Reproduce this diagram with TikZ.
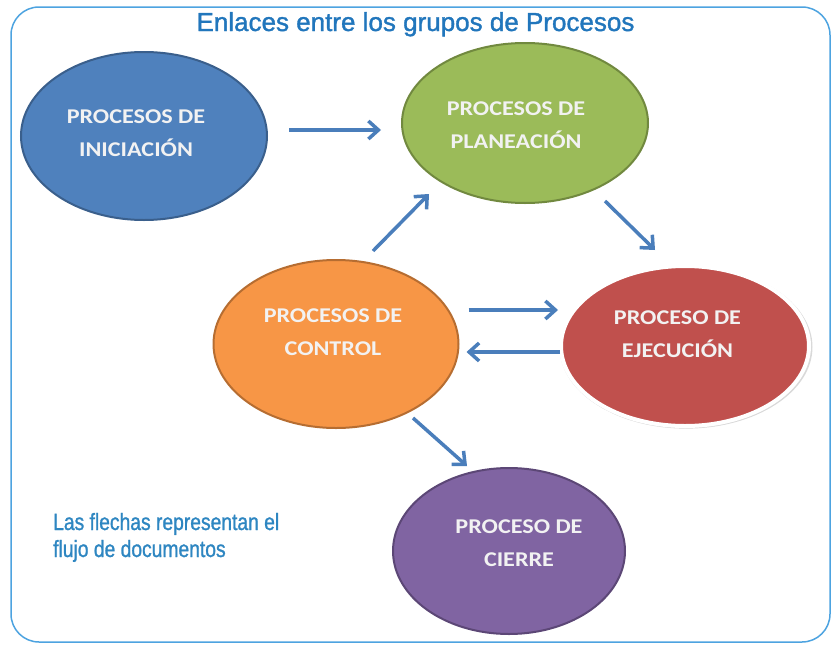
\documentclass[tikz,border=0pt]{standalone}
\usepackage{fontspec}
\setmainfont{Liberation Sans}
\newfontfamily\titlefont[FakeBold=1.3]{Liberation Sans}
\newfontfamily\notefont[FakeStretch=0.82,FakeBold=1.1]{Liberation Sans}
\newfontfamily\boxfont[FakeStretch=1.15]{Carlito}
\usetikzlibrary{shapes.geometric,arrows.meta,shadows}
\definecolor{frameblue}{HTML}{4DA3E0}
\definecolor{titleblue}{HTML}{2176BC}
\definecolor{noteblue}{HTML}{2E86C1}
\definecolor{arrowblue}{HTML}{4A7EBB}
\definecolor{iniFill}{HTML}{4F81BD}
\definecolor{iniLine}{HTML}{3A5F8C}
\definecolor{plaFill}{HTML}{9BBB59}
\definecolor{plaLine}{HTML}{71893F}
\definecolor{ctlFill}{HTML}{F79646}
\definecolor{ctlLine}{HTML}{B66D31}
\definecolor{ejeFill}{HTML}{C0504D}
\definecolor{ciFill}{HTML}{8064A2}
\definecolor{ciLine}{HTML}{5C4776}
\definecolor{boxtext}{HTML}{F2F2F2}
\tikzset{
  blob/.style={ellipse, inner sep=0pt, line width=2pt},
  blobtext/.style={align=center, text=boxtext, font=\boxfont\bfseries\fontsize{21}{33}\selectfont},
  flow/.style={draw=arrowblue, line width=3.5pt, -{Straight Barb[length=10pt,width=18pt]}},
}
\begin{document}
\begin{tikzpicture}[x=1pt,y=-1pt]
\useasboundingbox (0,0) rectangle (833,645);
% frame
\draw[frameblue, line width=1.5pt, rounded corners=28pt] (11,7) rectangle (830,642);
% title
\node[anchor=base, text=titleblue, font=\titlefont\fontsize{26}{30}\selectfont] (title) at (415.5,31) {Enlaces entre los grupos de Procesos};
% ellipses
\node[blob, fill=iniFill, draw=iniLine, minimum width=246pt, minimum height=168pt] (ini) at (144,136) {};
\node[blob, fill=plaFill, draw=plaLine, minimum width=246pt, minimum height=160pt] (pla) at (525,123) {};
\node[blob, fill=ctlFill, draw=ctlLine, minimum width=245pt, minimum height=168pt] (ctl) at (336,344) {};
\node[blob, fill=ejeFill, draw=white, line width=4pt, minimum width=248pt, minimum height=160pt,
      drop shadow={opacity=0.3, shadow xshift=1pt, shadow yshift=-1pt, shadow scale=1.02}] (eje) at (685,346) {};
\node[blob, fill=ciFill, draw=ciLine, minimum width=232pt, minimum height=166pt] (cie) at (509,551) {};
% texts
\node[blobtext] (iniT) at (136,133) {PROCESOS DE\\INICIACIÓN};
\node[blobtext] (plaT) at (516,125) {PROCESOS DE\\PLANEACIÓN};
\node[blobtext] (ctlT) at (333,332.5) {PROCESOS DE\\CONTROL};
\node[blobtext] (ejeT) at (677.5,334.5) {PROCESO DE\\EJECUCIÓN};
\node[blobtext] (cieT) at (519,543.5) {PROCESO DE\\CIERRE};
% arrow ends
\coordinate (a1s) at ([shift={(21,-6)}]ini.east);
\coordinate (a1e) at ([shift={(-20,7)}]pla.west);
\coordinate (a2s) at ([shift={(37,-8)}]ctl.north);
\coordinate (a2e) at ([shift={(-96,-10)}]pla.south);
\coordinate (a3s) at ([shift={(80,-3)}]pla.south);
\coordinate (a3e) at ([shift={(-30,-14)}]eje.north);
\coordinate (a4s) at ([shift={(9,-34)}]ctl.east);
\coordinate (a4e) at ([shift={(-1,-36)}]eje.west);
\coordinate (a5s) at ([shift={(1,6)}]eje.west);
\coordinate (a5e) at ([shift={(7,8)}]ctl.east);
\coordinate (a6s) at ([shift={(77,-11)}]ctl.south);
\coordinate (a6e) at ([shift={(-42,-1)}]cie.north);
\draw[flow] (a1s) -- (a1e);
\draw[flow] (a2s) -- (a2e);
\draw[flow] (a3s) -- (a3e);
\draw[flow] (a4s) -- (a4e);
\draw[flow] (a5s) -- (a5e);
\draw[flow] (a6s) -- (a6e);
% note
\node[anchor=base west, align=left, text=noteblue, font=\notefont\fontsize{23.5}{27}\selectfont, inner sep=0pt] (note) at (53,557) {Las flechas representan el\\flujo de documentos};
\end{tikzpicture}
\end{document}
